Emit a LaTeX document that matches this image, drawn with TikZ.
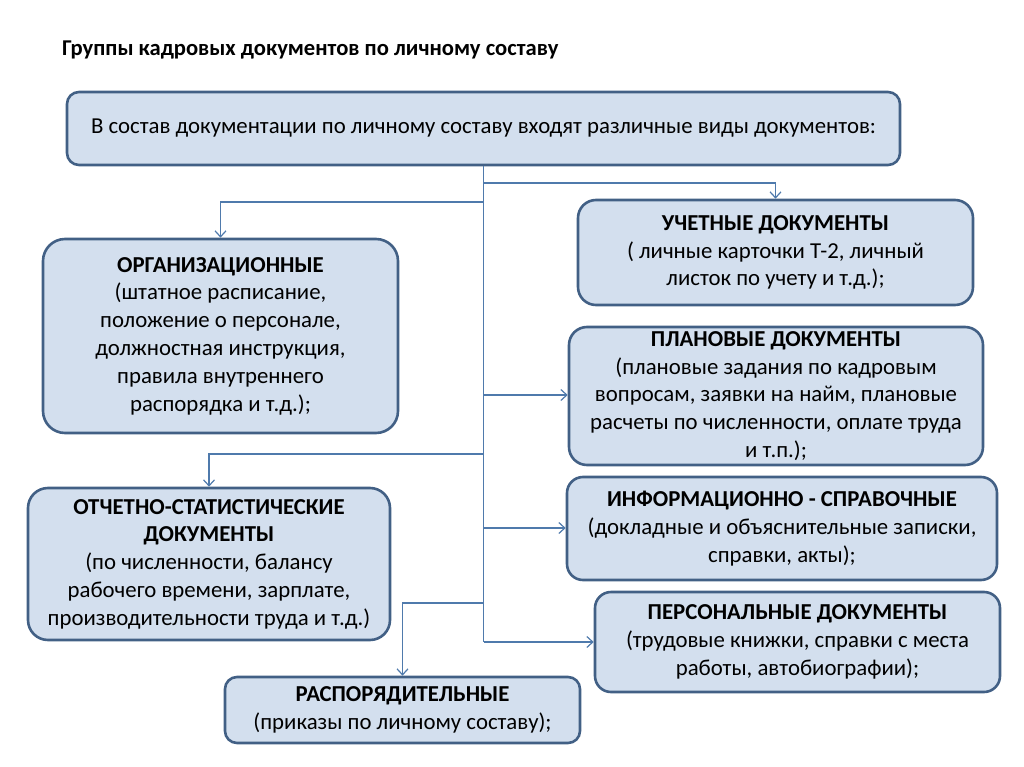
\documentclass[tikz,border=0pt]{standalone}
\usepackage{fontspec}
\setmainfont{Carlito}
\usetikzlibrary{positioning}
\usetikzlibrary{arrows.meta}
\definecolor{boxfill}{RGB}{211,223,238}
\definecolor{boxline}{RGB}{66,96,133}
\definecolor{linkline}{RGB}{79,122,172}
\tikzset{
  docbox/.style={draw=boxline, line width=2.6pt, fill=boxfill, rounded corners=14pt,
    align=center, inner sep=0pt, font=\fontsize{22.8}{27.8}\selectfont},
  link/.style={draw=linkline, line width=1.4pt},
  arr/.style={link, -{Straight Barb[length=6pt,width=11pt,line width=1.2pt]}}
}
\begin{document}
\begin{tikzpicture}[x=1pt,y=-1pt]
		\useasboundingbox (0,0) rectangle (1024,767);
		\node (title) [anchor=west, inner sep=0pt, font=\fontsize{22.6}{26}\selectfont\bfseries] at (62,50) {Группы кадровых документов по личному составу};
		\node (top) [docbox, minimum width=833pt, minimum height=73pt, rounded corners=12pt] at (483.5,128.5) {В состав документации по личному составу входят различные виды документов:};
		\node (org) [docbox, minimum width=355pt, minimum height=194pt, rounded corners=22pt] at (220.5,336) {\textbf{ОРГАНИЗАЦИОННЫЕ}\\(штатное расписание,\\положение о персонале,\\должностная инструкция,\\правила внутреннего\\распорядка и т.д.);};
		\node (otch) [docbox, minimum width=362pt, minimum height=152pt, rounded corners=20pt] at (209,564) {\textbf{ОТЧЕТНО-СТАТИСТИЧЕСКИЕ}\\\textbf{ДОКУМЕНТЫ}\\(по численности, балансу\\рабочего времени, зарплате,\\производительности труда и т.д.)};
		\node (rasp) [docbox, minimum width=355pt, minimum height=66pt, rounded corners=12pt] at (402.5,710) {\textbf{РАСПОРЯДИТЕЛЬНЫЕ}\\(приказы по личному составу);};
		\node (uch) [docbox, minimum width=395pt, minimum height=105pt, rounded corners=18pt] at (775.5,252.5) {\textbf{УЧЕТНЫЕ ДОКУМЕНТЫ}\\( личные карточки Т-2, личный\\листок по учету и т.д.);};
		\node (plan) [docbox, minimum width=414pt, minimum height=138pt, rounded corners=18pt] at (776,396) {\textbf{ПЛАНОВЫЕ ДОКУМЕНТЫ}\\(плановые задания по кадровым\\вопросам, заявки на найм, плановые\\расчеты по численности, оплате труда\\и т.п.);};
		\node (inf) [docbox, minimum width=430pt, minimum height=103pt, rounded corners=16pt] at (782,528.5) {\textbf{ИНФОРМАЦИОННО - СПРАВОЧНЫЕ}\\(докладные и объяснительные записки,\\справки, акты);};
		\node (pers) [docbox, minimum width=405pt, minimum height=100pt, rounded corners=16pt] at (797.5,642) {\textbf{ПЕРСОНАЛЬНЫЕ ДОКУМЕНТЫ}\\(трудовые книжки, справки с места\\работы, автобиографии);};
		% branch points on the trunk
		\coordinate (j1) at (483.5,183);
		\coordinate (j2) at (483.5,202);
		\coordinate (j3) at (483.5,395);
		\coordinate (j4) at (483.5,454);
		\coordinate (j5) at (483.5,528);
		\coordinate (j6) at (483.5,603);
		\coordinate (j7) at (483.5,642);
		\draw [link] (top.south) -- (j7);
		\draw [arr] (j1) -| (uch.north);
		\draw [arr] (j2) -| (org.north);
		\draw [arr] (j3) -- (j3 -| plan.west);
		\draw [arr] (j4) -| (otch.north);
		\draw [arr] (j5) -- (j5 -| inf.west);
		\draw [arr] (j6) -| (rasp.north);
		\draw [arr] (j7) -- (pers.west);
\end{tikzpicture}
\end{document}
